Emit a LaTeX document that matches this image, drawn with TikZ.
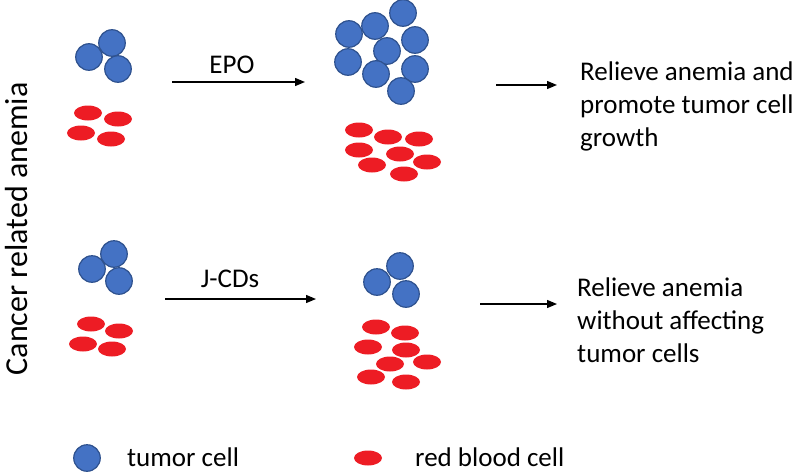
\documentclass[tikz,border=0pt]{standalone}
\usepackage{fontspec}
\setmainfont{Carlito}
\usetikzlibrary{arrows.meta,shapes.geometric}
\definecolor{tblue}{RGB}{68,114,196}
\definecolor{tborder}{RGB}{47,82,143}
\definecolor{rbc}{RGB}{237,28,36}
\tikzset{
  tumor/.style={circle,fill=tblue,draw=tborder,line width=1.2pt,minimum size=26.5pt,inner sep=0pt},
  redcell/.style={ellipse,fill=rbc,draw=none,minimum width=28pt,minimum height=15pt,inner sep=0pt},
  arr/.style={line width=1.3pt,-{Triangle[length=10pt,width=8pt]}},
  lbl/.style={font=\fontsize{27}{33}\selectfont,inner sep=0pt},
  outtxt/.style={font=\fontsize{27}{33}\selectfont,inner sep=0pt,align=left,anchor=base west},
}
\begin{document}
\begin{tikzpicture}[x=1pt,y=-1pt]
\useasboundingbox (0,0) rectangle (800,471);
% left top group
\node[tumor] (ta1) at (89,57) {};
\node[tumor] (ta2) at (112,43) {};
\node[tumor] (ta3) at (118,69) {};
\node[redcell] (ra1) at (88,113) {};
\node[redcell] (ra2) at (118,119) {};
\node[redcell] (ra3) at (81,133) {};
\node[redcell] (ra4) at (111,139) {};
% middle top group
\node[tumor] (tb1) at (403,13) {};
\node[tumor] (tb2) at (375,26) {};
\node[tumor] (tb3) at (349,34) {};
\node[tumor] (tb4) at (415,40) {};
\node[tumor] (tb5) at (387,51) {};
\node[tumor] (tb6) at (348,62) {};
\node[tumor] (tb7) at (376,74) {};
\node[tumor] (tb8) at (415,69) {};
\node[tumor] (tb9) at (401,91) {};
\node[redcell] (rb1) at (359,130) {};
\node[redcell] (rb2) at (388,137) {};
\node[redcell] (rb3) at (419,139) {};
\node[redcell] (rb4) at (359,150) {};
\node[redcell] (rb5) at (400,154) {};
\node[redcell] (rb6) at (372,165) {};
\node[redcell] (rb7) at (427,162) {};
\node[redcell] (rb8) at (404,174) {};
% left bottom group
\node[tumor] (tc1) at (92,269) {};
\node[tumor] (tc2) at (114,254) {};
\node[tumor] (tc3) at (119,281) {};
\node[redcell] (rc1) at (91,324) {};
\node[redcell] (rc2) at (119,331) {};
\node[redcell] (rc3) at (83,344) {};
\node[redcell] (rc4) at (112,349) {};
% middle bottom group
\node[tumor] (td1) at (400,266) {};
\node[tumor] (td2) at (377,282) {};
\node[tumor] (td3) at (406,294) {};
\node[redcell] (rd1) at (376,327) {};
\node[redcell] (rd2) at (405,333) {};
\node[redcell] (rd3) at (368,347) {};
\node[redcell] (rd4) at (406,350) {};
\node[redcell] (rd5) at (390,364) {};
\node[redcell] (rd6) at (427,362) {};
\node[redcell] (rd7) at (371,377) {};
\node[redcell] (rd8) at (406,382) {};
% arrows
\coordinate (a1s) at (172,82);
\coordinate (a1e) at (305,82);
\coordinate (a2s) at (496,85);
\coordinate (a2e) at (557,85);
\coordinate (a3s) at (165,299);
\coordinate (a3e) at (316,299);
\coordinate (a4s) at (480,304);
\coordinate (a4e) at (557,304);
\draw[arr] (a1s) -- (a1e);
\draw[arr] (a2s) -- (a2e);
\draw[arr] (a3s) -- (a3e);
\draw[arr] (a4s) -- (a4e);
\node[lbl,anchor=base] (epo) at (232,73) {EPO};
\node[lbl,anchor=base] (jcd) at (230,287) {J-CDs};
% outcome texts (anchored at the baseline of the last line)
\node[outtxt] (o1) at (580,146) {Relieve anemia and\\promote tumor cell\\growth};
\node[outtxt] (o2) at (577,362) {Relieve anemia\\without affecting\\tumor cells};
% side label
\node[lbl,font=\fontsize{32}{38}\selectfont,rotate=90] (side) at (17,229) {Cancer related anemia};
% legend
\node[tumor] (lg1) at (87,458) {};
\node[redcell] (lg2) at (368,458) {};
\node[lbl,anchor=base west] (lt1) at (127,466) {tumor cell};
\node[lbl,anchor=base west] (lt2) at (415,466) {red blood cell};
\end{tikzpicture}
\end{document}
